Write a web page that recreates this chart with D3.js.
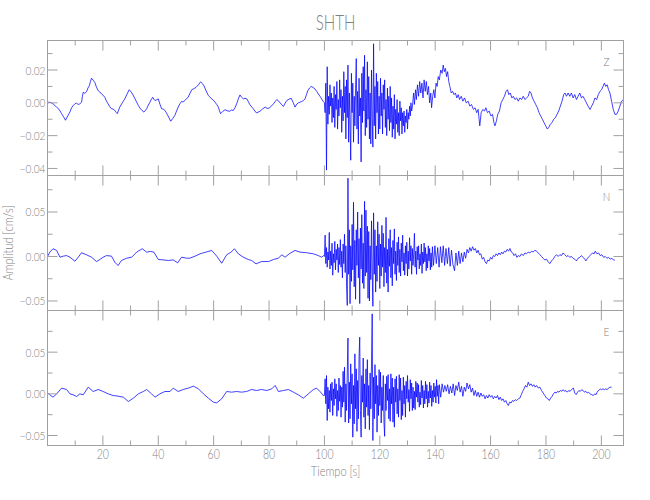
<!DOCTYPE html>
<html><head><meta charset="utf-8">
<script src="https://cdn.jsdelivr.net/npm/d3@7"></script>
<style>
body{margin:0;background:#fff}
text{font-family:Lato,"DejaVu Sans",sans-serif;font-weight:300;fill:#808080}
</style>
</head><body>
<svg id="chart" width="650" height="500"></svg>
<script>
// ---------------- data ----------------
const title = "SHTH";
const components = ["Z", "N", "E"];
const xLabel = "Tiempo [s]";
const yLabel = "Amplitud [cm/s]";
const xDomain = [0, 208];
const xMajor = [0, 20, 40, 60, 80, 100, 120, 140, 160, 180, 200];
const xMinor = [10, 30, 50, 70, 90, 110, 130, 150, 170, 190];
const xTickLabels = [20, 40, 60, 80, 100, 120, 140, 160, 180, 200];

const zDomain = [-0.0443, 0.038];
const zMajor = [-0.04, -0.02, 0.00, 0.02];
const zMinor = [-0.03, -0.01, 0.01, 0.03];
const nDomain = [-0.0607, 0.091];
const nMajor = [-0.05, 0.00, 0.05];
const nMinor = [-0.025, 0.025, 0.075];
const eDomain = [-0.062, 0.100];
const eMajor = [-0.05, 0.00, 0.05];
const eMinor = [-0.025, 0.025, 0.075];

const burstStart = 100, burstStep = 0.25;

// Z component
const zQuiet = [[0,0.0004],[1.2,0.0002],[2.1,-0.0008],[3.3,-0.0026],[4.2,-0.004],[5.1,-0.0066],[5.8,-0.0085],[6.5,-0.0106],[7.3,-0.008],[8.1,-0.0056],[8.7,-0.003],[9.3,-0.0016],[10.0,-0.0004],[10.5,-0.0002],[11.1,-0.001],[11.7,-0.0006],[12.3,0.0004],[12.6,0.004],[12.9,0.0064],[13.5,0.0058],[14.1,0.0068],[14.6,0.009],[15.1,0.0104],[15.5,0.013],[15.9,0.015],[16.5,0.0138],[17.1,0.0124],[17.7,0.0095],[18.3,0.0074],[18.9,0.0066],[19.5,0.0054],[20.1,0.0046],[20.7,0.0034],[21.3,0.001],[21.9,-0.0006],[22.5,-0.0024],[23.1,-0.0036],[23.7,-0.0038],[24.3,-0.0046],[24.8,-0.0058],[25.2,-0.0066],[25.7,-0.0044],[26.1,-0.0026],[27.0,0.000],[27.9,0.0024],[28.7,0.0052],[29.5,0.008],[30.1,0.0068],[30.7,0.0054],[31.5,0.0028],[32.2,0.0004],[32.8,-0.0016],[33.4,-0.0032],[34.1,-0.0046],[34.8,-0.0056],[35.3,-0.0048],[35.8,-0.0036],[36.4,-0.0014],[37.0,0.0004],[37.5,0.0022],[38.0,0.0034],[38.4,0.0022],[38.8,0.0014],[39.4,0.0018],[40.0,0.0024],[40.6,-0.0008],[41.2,-0.0036],[41.8,-0.0038],[42.4,-0.0046],[42.9,-0.006],[43.3,-0.0072],[43.9,-0.0092],[44.5,-0.0112],[45.2,-0.0096],[46.0,-0.0076],[46.6,-0.005],[47.2,-0.0026],[47.8,-0.0006],[48.4,0.0008],[49.0,0.0006],[49.6,0.0014],[50.2,0.0026],[50.8,0.0034],[51.5,0.006],[52.1,0.008],[52.8,0.0086],[53.6,0.0094],[54.5,0.011],[55.3,0.0128],[55.9,0.0118],[56.5,0.0104],[57.3,0.0072],[58.1,0.0044],[58.7,0.0034],[59.3,0.0024],[59.9,0.0016],[60.5,0.0004],[61.1,-0.001],[61.7,-0.0026],[62.1,-0.0048],[62.5,-0.0066],[63.3,-0.0052],[64.1,-0.0042],[64.9,-0.0048],[65.7,-0.0052],[66.4,-0.0044],[67.1,-0.0046],[67.7,-0.003],[68.3,-0.0006],[68.9,0.0024],[69.5,0.0048],[70.1,0.0034],[70.7,0.0024],[71.3,0.0028],[72.0,0.0024],[72.5,0.0008],[73.1,-0.0012],[73.7,-0.0024],[74.3,-0.0036],[74.9,-0.005],[75.5,-0.0062],[76.1,-0.0056],[76.7,-0.0052],[77.6,-0.0038],[78.6,-0.0026],[79.3,-0.0034],[80.1,-0.0032],[80.8,-0.002],[81.6,-0.0006],[82.2,0.0008],[82.8,0.002],[83.4,0.0012],[84.0,0.000],[84.6,-0.0012],[85.2,-0.0022],[85.8,-0.0002],[86.4,0.0014],[87.2,0.0022],[88.0,0.0028],[88.7,0.0002],[89.4,-0.0026],[90.0,-0.0008],[90.6,0.000],[91.2,0.0004],[91.8,0.0008],[92.4,0.0014],[93.0,0.0024],[93.5,0.005],[94.0,0.0074],[94.6,0.009],[95.2,0.010],[95.9,0.0094],[96.6,0.0084],[97.2,0.007],[97.8,0.0054],[98.4,0.004],[99.0,0.0024],[99.5,0.001]];
const zBurst = [
0.000,-0.006,0.012,-0.041,0.022,-0.013,0.004,-0.007,
0.011,-0.002,0.006,-0.012,0.003,-0.009,0.010,-0.015,
0.005,-0.004,0.013,-0.016,0.002,-0.008,0.014,-0.003,
0.008,-0.018,0.004,-0.011,0.019,-0.006,0.010,-0.022,
0.014,-0.009,0.023,-0.024,0.006,-0.013,-0.035,0.018,
-0.006,0.012,-0.024,0.004,-0.014,0.009,0.027,-0.016,
0.007,-0.025,0.015,-0.008,0.003,-0.036,0.018,-0.012,
0.022,-0.005,0.029,-0.020,0.008,-0.015,0.025,-0.010,
0.016,-0.022,0.006,-0.025,0.020,-0.009,-0.027,0.036,
-0.014,0.010,-0.022,0.018,-0.006,0.013,-0.019,0.004,
-0.016,0.015,-0.008,0.006,-0.019,0.011,-0.004,0.014,
-0.015,0.002,-0.020,0.009,-0.010,0.004,-0.017,0.010,
-0.012,0.003,-0.021,-0.002,-0.016,0.005,-0.022,-0.004,
-0.013,0.002,-0.018,-0.006,-0.020,0.001,-0.011,-0.003,
-0.019,-0.006,-0.014,-0.005,-0.018,-0.008,-0.012,-0.004,
-0.016,-0.006,-0.010,-0.002,-0.008,0.000,-0.005];
const zCoda = [[131.8,-0.002],[132.2,0.006],[132.5,-0.001],[132.9,0.008],[133.2,0.002],[133.6,0.011],[134.0,0.004],[134.4,0.013],[134.8,0.006],[135.2,0.012],[135.6,0.003],[136.0,0.014],[136.4,0.007],[136.8,0.013],[137.2,0.005],[137.6,0.010],[138.0,0.000],[138.4,0.006],[138.7,-0.003],[139.1,0.004],[139.5,0.008],[139.9,0.003],[140.3,0.012],[140.7,0.010],[141.1,0.016],[141.5,0.014],[142.0,0.020],[142.5,0.018],[142.9,0.023],[143.3,0.019],[143.7,0.021],[144.1,0.016],[144.5,0.019],[144.9,0.013],[145.3,0.010],[145.8,0.006],[146.3,0.007],[146.8,0.005],[147.3,0.006],[147.8,0.003],[148.3,0.005],[148.8,0.002],[149.4,0.004],[150.0,0.001],[150.6,0.003],[151.2,0.000],[151.9,0.001],[152.5,-0.002],[153.1,-0.001],[153.8,-0.004],[154.4,-0.003],[155.0,-0.006],[155.5,-0.004],[156.1,-0.014],[156.6,-0.006],[157.2,-0.004],[157.8,-0.005],[158.3,-0.003],[158.9,-0.006],[159.5,-0.005],[160.1,-0.008],[160.7,-0.007],[161.2,-0.012],[161.6,-0.014],[162.1,-0.011],[162.6,-0.007],[163.2,-0.005],[163.8,0.000],[164.4,0.002],[165.0,0.004],[165.6,0.007],[166.1,0.008],[166.6,0.005],[167.1,0.006],[167.7,0.003],[168.2,0.004],[168.8,0.002],[169.4,0.003],[170.0,0.001],[170.6,0.003],[171.2,0.002],[171.8,0.004],[172.4,0.002],[173.0,0.003],[173.6,0.004],[174.1,0.007],[174.6,0.006],[175.1,0.003],[175.7,0.001],[176.3,-0.001],[176.9,-0.003],[177.5,-0.006],[178.1,-0.008],[178.7,-0.010],[179.3,-0.012],[179.9,-0.014],[180.5,-0.016],[181.0,-0.015],[181.6,-0.013],[182.2,-0.012],[182.8,-0.010],[183.4,-0.009],[184.0,-0.007],[184.6,-0.005],[185.2,-0.002],[185.8,0.001],[186.4,0.005],[186.9,0.006],[187.4,0.004],[188.0,0.006],[188.6,0.004],[189.2,0.006],[189.8,0.003],[190.4,0.005],[191.0,0.002],[191.6,0.004],[192.2,0.006],[192.8,0.003],[193.4,0.004],[194.0,0.002],[194.6,0.000],[195.2,-0.002],[195.9,-0.004],[196.5,-0.002],[197.1,0.000],[197.7,0.003],[198.3,0.002],[198.9,0.005],[199.5,0.007],[200.1,0.008],[200.6,0.010],[201.1,0.012],[201.6,0.010],[202.1,0.011],[202.6,0.008],[203.1,0.006],[203.7,0.001],[204.3,-0.004],[204.9,-0.007],[205.5,-0.007],[206.1,-0.005],[206.7,-0.002],[207.3,0.001],[208.0,0.002]];

// N component
const nQuiet = [[0,0],[0.84,0.0049],[2.0,0.0087],[3.3,0.0068],[4.5,-0.0008],[5.7,0.0004],[6.9,0.001],[8.1,-0.0008],[9.9,-0.0053],[11.1,-0.0008],[12.3,0.0042],[14.1,0.0019],[15.9,-0.0008],[17.7,-0.0057],[18.9,-0.0034],[20.1,-0.0008],[21.3,0.001],[23.1,0.0004],[24.3,-0.0064],[25.5,-0.0102],[26.7,-0.0045],[28.6,-0.0019],[30.4,-0.0008],[32.2,0.0049],[34.2,0.0087],[35.8,0.0049],[37.2,0.0057],[38.4,0.0049],[40.0,-0.0034],[41.8,-0.0038],[43.6,-0.0045],[45.4,-0.0038],[47.0,-0.0072],[48.4,-0.0008],[50.2,-0.0019],[51.4,-0.0019],[53.3,0.0004],[55.1,0.003],[57.2,0.0049],[59.3,0.0068],[61.1,0.0004],[62.9,-0.0076],[64.7,0.0019],[66.3,0.0049],[67.5,0.0087],[68.9,0.003],[70.7,-0.0008],[72.5,-0.0034],[73.7,-0.0045],[75.3,-0.0083],[77.3,-0.0057],[79.8,-0.0057],[81.6,-0.0034],[83.4,-0.0019],[84.6,0.0019],[85.8,-0.0008],[87.3,0.003],[89.4,0.0068],[91.2,0.0049],[93.6,0.0042],[96.0,0.003],[97.8,0.001],[99.0,-0.0008],[99.7,0.001]];
const nBurst = [
0.000,0.024,-0.008,0.010,-0.012,0.005,-0.004,0.027,
-0.014,0.006,-0.010,0.015,-0.021,0.003,-0.007,0.017,
-0.015,0.008,-0.004,0.014,-0.018,0.010,-0.009,0.019,
-0.012,0.006,-0.024,0.014,-0.008,0.025,-0.018,0.012,
-0.032,-0.055,0.088,-0.020,0.030,-0.053,0.012,-0.028,
0.036,-0.015,0.061,-0.034,0.018,-0.048,0.030,-0.010,
0.050,-0.024,0.020,-0.053,0.032,-0.014,0.047,-0.030,
0.015,-0.036,0.062,-0.022,0.052,-0.018,0.034,-0.047,
0.028,-0.050,0.012,-0.026,0.040,-0.015,-0.056,0.049,
-0.020,0.030,-0.040,0.012,-0.028,0.039,-0.010,0.025,
-0.036,0.014,-0.022,0.035,-0.012,0.026,-0.034,0.010,
-0.018,0.044,-0.030,0.008,-0.040,0.020,-0.011,0.030,
-0.024,0.010,-0.033,0.018,-0.008,0.031,-0.020,0.006,
-0.027,0.016,-0.010,0.022,-0.018,0.008,-0.022,0.015,
-0.006,0.024,-0.016,0.004,-0.021,0.012,-0.008,0.016,
-0.022,0.006,-0.014,0.021,-0.005,0.012,-0.020,0.009,
-0.010,0.004,0.026,-0.012,0.006,-0.020,0.011,-0.004,
0.012,-0.014,0.003,-0.010,0.014,-0.019,0.005,-0.008,
0.015,-0.006,0.010,-0.016,0.003,-0.013,0.012,-0.005,
0.009,-0.015,0.004,-0.012,0.011];
const nCoda = [[139.4,-0.010],[139.9,0.012],[140.4,-0.008],[140.9,0.010],[141.4,-0.012],[141.9,0.011],[142.4,-0.007],[142.9,0.012],[143.4,-0.010],[143.9,0.009],[144.4,-0.008],[144.9,0.010],[145.4,-0.011],[145.9,0.007],[146.4,-0.009],[147.0,-0.016],[147.5,0.004],[148.0,-0.010],[148.5,0.006],[149.0,-0.008],[149.5,0.004],[150.0,-0.006],[150.5,0.005],[151.0,-0.002],[151.5,0.008],[152.0,0.004],[152.5,0.010],[153.0,0.006],[153.5,0.011],[154.0,0.007],[154.5,0.009],[155.0,0.004],[155.5,0.007],[156.0,0.002],[156.5,0.003],[157.0,-0.003],[157.5,-0.001],[158.0,-0.006],[158.5,-0.008],[159.0,-0.004],[159.5,-0.005],[160.0,-0.001],[160.5,-0.003],[161.0,0.001],[161.5,0.000],[162.0,0.003],[162.5,0.001],[163.0,0.004],[163.5,0.002],[164.0,0.005],[164.5,0.003],[165.0,0.006],[165.5,0.005],[166.0,0.008],[166.5,0.006],[167.0,0.009],[167.5,0.005],[168.0,0.004],[168.5,0.001],[169.0,0.003],[169.5,-0.001],[170.0,0.001],[170.6,0.000],[171.2,0.003],[171.8,0.001],[172.4,0.004],[173.0,0.003],[173.6,0.005],[174.2,0.004],[174.8,0.006],[175.4,0.005],[176.0,0.007],[176.6,0.006],[177.2,0.004],[177.8,0.002],[178.4,0.000],[179.0,-0.002],[179.6,-0.004],[180.2,-0.003],[180.8,-0.006],[181.4,-0.008],[182.0,-0.005],[182.6,-0.003],[183.2,0.000],[183.8,0.002],[184.4,0.000],[185.0,0.002],[185.6,0.001],[186.2,0.004],[186.8,0.002],[187.4,0.000],[188.0,0.001],[188.6,-0.001],[189.2,0.000],[189.8,-0.002],[190.4,-0.003],[191.0,-0.005],[191.6,-0.002],[192.2,-0.001],[192.8,0.001],[193.4,-0.001],[194.0,-0.003],[194.4,-0.005],[195.0,-0.002],[195.6,0.000],[196.2,0.002],[196.8,0.004],[197.4,0.003],[197.8,0.006],[198.4,0.003],[199.0,0.004],[199.6,0.001],[200.2,0.002],[200.8,-0.001],[201.4,0.000],[202.0,-0.002],[202.6,-0.001],[203.2,-0.003],[203.8,-0.002],[204.4,-0.004],[204.9,-0.004]];

// E component
const eQuiet = [[0,0.0012],[0.84,-0.0012],[2.0,-0.004],[3.3,0],[5.1,0.0068],[6.9,0.0052],[8.1,0],[9.3,-0.0012],[10.5,-0.0032],[11.7,0],[12.9,-0.0012],[14.7,0.008],[16.5,0.0028],[18.3,0.0052],[20.1,0.0028],[21.9,0],[23.7,-0.002],[25.5,-0.0028],[27.4,-0.004],[29.2,-0.0092],[31.0,-0.0052],[32.8,0],[34.6,0.0028],[35.8,0.0052],[37.6,0],[38.8,-0.004],[40.6,0],[42.4,0.0028],[44.2,0.0028],[45.4,0.0068],[47.2,0.0028],[49.0,0.0052],[50.8,0.0068],[52.7,0.0092],[54.5,0.006],[56.3,0],[58.1,-0.0052],[59.9,-0.01],[61.1,-0.0108],[62.9,-0.006],[64.7,0.0028],[66.5,0.002],[68.3,0.0028],[70.1,0.002],[71.9,0.0028],[73.7,0.0052],[75.5,0.004],[77.3,0.0052],[79.2,0.004],[81.0,0.006],[82.2,0.01],[83.4,0.0028],[85.2,0.004],[87.0,0.0052],[88.8,0.002],[90.6,-0.0012],[92.4,-0.0052],[94.2,0],[96.0,0.0052],[97.2,0.0068],[98.4,0.0028],[99.6,-0.002]];
const eBurst = [
-0.002,0.018,-0.012,0.022,-0.032,0.008,-0.018,0.004,
-0.022,0.012,-0.008,0.014,-0.026,0.006,-0.014,0.018,
-0.006,0.012,-0.027,0.004,-0.020,0.019,-0.009,0.010,
-0.028,0.008,-0.016,0.027,-0.010,0.032,-0.034,0.012,
-0.020,0.026,0.067,-0.035,0.014,-0.030,0.036,-0.012,
0.024,-0.052,0.010,-0.036,0.048,-0.018,0.030,-0.045,
0.016,-0.030,0.044,0.068,-0.020,-0.052,0.022,-0.010,
0.043,-0.028,0.012,-0.042,0.030,-0.016,0.041,-0.026,
0.010,-0.043,0.025,-0.018,0.036,0.096,-0.056,0.020,
-0.030,0.035,-0.012,0.022,-0.046,0.010,-0.026,0.029,
-0.014,0.026,-0.035,0.008,-0.020,0.022,-0.034,-0.051,
0.012,-0.020,0.021,-0.008,0.023,-0.030,0.006,-0.033,
0.024,-0.012,0.019,-0.034,0.008,-0.040,0.018,-0.010,
0.021,-0.024,0.006,-0.028,0.023,-0.008,0.019,-0.031,
0.004,-0.026,0.020,-0.012,0.010,-0.028,0.015,-0.006,
0.022,-0.010,0.005,-0.021,0.017,-0.006,0.013,-0.020,
0.008,-0.017,0.003,-0.019,0.015,-0.004,0.013,-0.010,
0.011,-0.016,0.002,-0.013,0.016,-0.005,0.010,-0.017,
0.004,-0.012,0.015,-0.006,0.011,-0.016,0.003,-0.011,
0.014,-0.005,0.010,-0.015,0.004,-0.010,0.013,-0.004,
0.009,-0.011,0.017,-0.003,0.010,-0.012,0.011];
const eCoda = [[142.0,-0.004],[142.5,0.012],[143.0,0.002],[143.5,0.010],[144.0,0.003],[144.5,0.011],[145.0,0.000],[145.5,0.009],[146.0,0.001],[146.5,0.012],[147.0,-0.002],[147.5,0.010],[148.0,0.004],[148.5,0.014],[149.0,0.002],[149.5,0.009],[150.0,-0.003],[150.5,0.008],[151.0,0.003],[151.5,0.013],[152.0,0.006],[152.5,0.011],[153.0,0.002],[153.5,0.007],[154.0,-0.002],[154.5,0.004],[155.0,-0.003],[155.5,0.002],[156.0,-0.004],[156.5,0.001],[157.0,-0.003],[157.5,-0.001],[158.0,-0.006],[158.5,-0.002],[159.0,-0.005],[159.5,-0.001],[160.0,-0.004],[160.5,-0.002],[161.0,-0.006],[161.5,-0.003],[162.0,-0.005],[162.5,-0.002],[163.0,-0.007],[163.5,-0.004],[164.0,-0.008],[164.5,-0.006],[165.0,-0.010],[165.5,-0.008],[166.0,-0.012],[166.4,-0.014],[166.9,-0.010],[167.4,-0.011],[167.9,-0.008],[168.4,-0.009],[168.9,-0.007],[169.4,-0.008],[170.0,-0.006],[170.6,-0.005],[171.1,-0.001],[171.6,0.003],[172.1,0.006],[172.6,0.010],[173.1,0.008],[173.6,0.014],[174.1,0.010],[174.6,0.012],[175.1,0.009],[175.6,0.011],[176.1,0.008],[176.6,0.010],[177.2,0.007],[177.8,0.008],[178.4,0.004],[179.0,0.001],[179.6,-0.002],[180.2,-0.005],[180.7,-0.006],[181.2,-0.008],[181.7,-0.005],[182.2,-0.003],[182.7,0.000],[183.2,0.002],[183.7,0.001],[184.2,0.003],[184.7,0.002],[185.2,0.004],[185.7,0.003],[186.2,0.005],[186.7,0.003],[187.2,0.004],[187.7,0.002],[188.2,0.004],[188.7,0.003],[189.2,0.005],[189.9,0.007],[190.4,0.001],[190.9,-0.001],[191.4,0.002],[191.9,0.004],[192.4,0.003],[192.9,0.005],[193.4,0.004],[193.9,0.002],[194.4,0.003],[194.9,0.001],[195.4,0.002],[195.9,0.000],[196.5,-0.001],[197.1,-0.002],[197.6,0.000],[198.1,-0.001],[198.6,0.003],[199.1,0.004],[199.6,0.006],[200.1,0.005],[200.6,0.006],[201.1,0.005],[201.6,0.006],[202.1,0.005],[202.6,0.007],[203.1,0.008],[203.7,0.008]];

// ---------------- drawing ----------------
const svg = d3.select("#chart");
const axisColor = "#a0a0a0";
const traceColor = "#0000ff";
const left = 47.5, right = 623.5;
const panelTops = [40.5, 175.5, 310.5];
const panelH = 135;

function buildTrace(quiet, burst, coda) {
  const b = burst.map((v, i) => [burstStart + i * burstStep, v]);
  const last = b[b.length - 1][0];
  return quiet.filter(d => d[0] < burstStart).concat(b, coda.filter(d => d[0] > last));
}

const panels = [
  {name: "Z", domain: zDomain, major: zMajor, minor: zMinor, data: buildTrace(zQuiet, zBurst, zCoda)},
  {name: "N", domain: nDomain, major: nMajor, minor: nMinor, data: buildTrace(nQuiet, nBurst, nCoda)},
  {name: "E", domain: eDomain, major: eMajor, minor: eMinor, data: buildTrace(eQuiet, eBurst, eCoda)}
];

const x = d3.scaleLinear().domain(xDomain).range([left, right]);
const fmt = d3.format(".2f");

function condense(sel, k) {
  sel.each(function() {
    const w = this.getComputedTextLength();
    d3.select(this).attr("textLength", w * k).attr("lengthAdjust", "spacingAndGlyphs");
  });
}

panels.forEach((p, i) => {
  const top = panelTops[i], bottom = top + panelH;
  const y = d3.scaleLinear().domain(p.domain).range([bottom, top]);
  const g = svg.append("g");

  const clipId = "clip" + i;
  svg.append("clipPath").attr("id", clipId).append("rect")
    .attr("x", left).attr("y", top).attr("width", right - left).attr("height", panelH);

  // trace
  const line = d3.line().x(d => x(d[0])).y(d => y(d[1]));
  g.append("path").datum(p.data)
    .attr("clip-path", `url(#${clipId})`)
    .attr("fill", "none").attr("stroke", traceColor)
    .attr("stroke-width", 0.75).attr("stroke-linejoin", "round")
    .attr("d", line);

  // frame
  g.append("rect").attr("x", left).attr("y", top).attr("width", right - left).attr("height", panelH)
    .attr("fill", "none").attr("stroke", axisColor).attr("stroke-width", 1);

  // y ticks (left & right, inward)
  const yt = p.major.map(v => ({v, len: 10})).concat(p.minor.map(v => ({v, len: 5})));
  g.append("g").selectAll("line").data(yt).join("line")
    .attr("x1", left).attr("x2", d => left + d.len)
    .attr("y1", d => y(d.v)).attr("y2", d => y(d.v))
    .attr("stroke", axisColor);
  g.append("g").selectAll("line").data(yt).join("line")
    .attr("x1", right).attr("x2", d => right - d.len)
    .attr("y1", d => y(d.v)).attr("y2", d => y(d.v))
    .attr("stroke", axisColor);

  // x ticks (top & bottom, inward)
  const xt = xMajor.map(v => ({v, len: 10})).concat(xMinor.map(v => ({v, len: 5})));
  g.append("g").selectAll("line").data(xt).join("line")
    .attr("x1", d => x(d.v)).attr("x2", d => x(d.v))
    .attr("y1", top).attr("y2", d => top + d.len)
    .attr("stroke", axisColor);
  g.append("g").selectAll("line").data(xt).join("line")
    .attr("x1", d => x(d.v)).attr("x2", d => x(d.v))
    .attr("y1", bottom).attr("y2", d => bottom - d.len)
    .attr("stroke", axisColor);

  // y labels
  const yl = g.append("g").selectAll("text").data(p.major).join("text")
    .attr("x", left - 2).attr("y", d => y(d) + 4.5)
    .attr("text-anchor", "end").attr("font-size", 12.5)
    .text(d => fmt(d));
  condense(yl, 0.81);

  // component letter
  const cl = g.append("text").attr("x", 606.5).attr("y", top + 25.5)
    .attr("text-anchor", "middle").attr("font-size", 12.5).text(p.name);
  condense(cl, 0.8);

  if (i === panels.length - 1) {
    const xl = g.append("g").selectAll("text").data(xTickLabels).join("text")
      .attr("x", d => x(d)).attr("y", bottom + 13)
      .attr("text-anchor", "middle").attr("font-size", 13)
      .text(d => d);
    condense(xl, 0.81);
  }
});

const tt = svg.append("text").attr("x", (left + right) / 2).attr("y", 30)
  .attr("text-anchor", "middle").attr("font-size", 21).text(title);
condense(tt, 0.72);

const xt = svg.append("text").attr("x", (left + right) / 2).attr("y", 476)
  .attr("text-anchor", "middle").attr("font-size", 13.5).text(xLabel);
condense(xt, 0.82);

const ytx = svg.append("text").attr("transform", "translate(13,243) rotate(-90)")
  .attr("text-anchor", "middle").attr("font-size", 13.5).text(yLabel);
condense(ytx, 0.82);
</script>
</body></html>
